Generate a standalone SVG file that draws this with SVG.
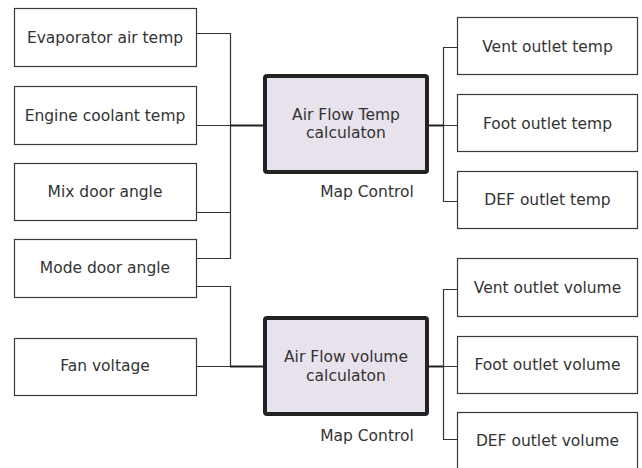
<svg xmlns="http://www.w3.org/2000/svg" width="642" height="468" viewBox="0 0 642 468">
<style>
.box{fill:#fff;stroke:#3a3a3a;stroke-width:1.2}
.calc{fill:#e7e2ec;stroke:#222;stroke-width:4}
text{font-family:"DejaVu Sans",Verdana,sans-serif;font-size:15.5px;fill:#333;text-anchor:middle}
.c{fill:none;stroke:#333;stroke-width:1.2}
.ct{fill:none;stroke:#222;stroke-width:2}
</style>
<rect width="642" height="468" fill="#fff"/>
<g id="connectors">
<path class="c" d="M196 33.5H230.5V258.5H196M196 212.5H230.5M196 125.5H230.5"/>
<path class="ct" d="M230 125.5H264"/>
<path class="c" d="M196 286.5H230.5V366.5M196 366.5H230.5"/>
<path class="ct" d="M230 366.5H264"/>
<path class="ct" d="M428 125.5H443"/>
<path class="c" d="M457 47.5H443.5V201.5H457M443 125.5H457"/>
<path class="ct" d="M428 366.5H443"/>
<path class="c" d="M457 289.5H443.5V439.5H457M443 366.5H457"/>
</g>
<g id="evap"><rect class="box" x="14.5" y="8.5" width="182" height="58"/><text x="105" y="43">Evaporator air temp</text></g>
<g id="coolant"><rect class="box" x="14.5" y="86.5" width="182" height="58"/><text x="105" y="120.5">Engine coolant temp</text></g>
<g id="mix"><rect class="box" x="14.5" y="163.5" width="182" height="57"/><text x="105" y="196.5">Mix door angle</text></g>
<g id="mode"><rect class="box" x="14.5" y="239.5" width="182" height="58"/><text x="105" y="272.5">Mode door angle</text></g>
<g id="fan"><rect class="box" x="14.5" y="338.5" width="182" height="57"/><text x="105" y="371">Fan voltage</text></g>
<g id="tempcalc"><rect class="calc" x="265" y="76" width="162" height="96" rx="2"/><text x="346" y="120">Air Flow Temp</text><text x="346" y="138">calculaton</text><text x="367" y="197">Map Control</text></g>
<g id="volcalc"><rect class="calc" x="265" y="318" width="162" height="96" rx="2"/><text x="346" y="362">Air Flow volume</text><text x="346" y="381">calculaton</text><text x="367" y="441">Map Control</text></g>
<g id="venttemp"><rect class="box" x="457.5" y="17.5" width="180" height="57"/><text x="547.5" y="52">Vent outlet temp</text></g>
<g id="foottemp"><rect class="box" x="457.5" y="94.5" width="180" height="57"/><text x="547.5" y="128.5">Foot outlet temp</text></g>
<g id="deftemp"><rect class="box" x="457.5" y="171.5" width="180" height="57"/><text x="547.5" y="204.5">DEF outlet temp</text></g>
<g id="ventvol"><rect class="box" x="457.5" y="258.5" width="180" height="58"/><text x="547.5" y="293">Vent outlet volume</text></g>
<g id="footvol"><rect class="box" x="457.5" y="336.5" width="180" height="57"/><text x="547.5" y="369.5">Foot outlet volume</text></g>
<g id="defvol"><rect class="box" x="457.5" y="412.5" width="180" height="60"/><text x="547.5" y="445.5">DEF outlet volume</text></g>
</svg>
